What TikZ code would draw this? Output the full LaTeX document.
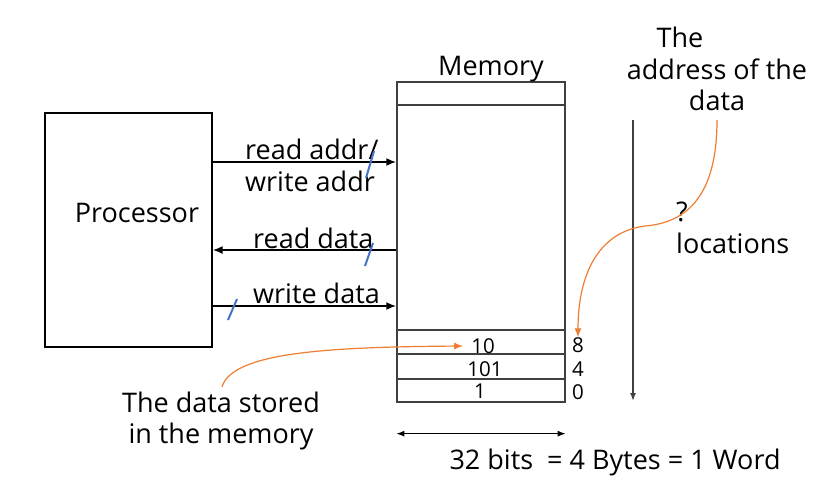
\documentclass[tikz,border=0pt]{standalone}
\usepackage{fontspec}
\setmainfont{Open Sans}
\usetikzlibrary{arrows.meta,calc,positioning}
\definecolor{tickblue}{HTML}{4472C4}
\definecolor{noteorange}{HTML}{ED7D31}
\definecolor{linegray}{HTML}{404040}

\begin{document}
\begin{tikzpicture}[x=1pt, y=-1pt,
  procbox/.style={draw, line width=1.2pt, minimum width=167pt, minimum height=234pt, inner sep=0pt},
  cellbox/.style={draw=linegray, line width=1.3pt, minimum width=168pt, inner sep=0pt},
  txt/.style={font=\fontsize{27}{31.5}\selectfont, inner sep=0pt},
  smalltxt/.style={font=\fontsize{20.5}{22}\selectfont, inner sep=0pt},
  arrow/.style={-{Latex[length=10pt,width=8pt]}, line width=2pt},
  dimarrow/.style={{Latex[length=8pt,width=6pt]}-{Latex[length=8pt,width=6pt]}, line width=1.2pt},
  locarrow/.style={-{Latex[length=8pt,width=6pt]}, line width=1.5pt, draw=linegray},
  notearrow/.style={-{Latex[length=9pt,width=7pt]}, line width=1.2pt, draw=noteorange},
  tick/.style={draw=tickblue, line width=2pt}
]
\useasboundingbox (0,0) rectangle (837,499);

\node[procbox] (proc) at (128.5,230) {};
\node[txt] (proclbl) at (137,213) {Processor};

\node[cellbox, minimum height=23pt] (memtop) at (481,93.5) {};
\node[cellbox, minimum height=225pt] (membody) at (481,217.5) {};
\node[cellbox, minimum height=24pt] (row8) at (481,342) {};
\node[cellbox, minimum height=25pt] (row4) at (481,366.5) {};
\node[cellbox, minimum height=23pt] (row0) at (481,390.5) {};
\node[txt] (memlbl) at (491,69) {Memory};

\node[smalltxt] (val10) at (483,346) {10};
\node[smalltxt] (val101) at (485,369) {101};
\node[smalltxt] (val1) at (480,391) {1};
\node[smalltxt] (adr8) at (578,345) {8};
\node[smalltxt] (adr4) at (578,369) {4};
\node[smalltxt] (adr0) at (578,392) {0};

\node[txt, anchor=west] (lblra) at (245,149) {read addr/};
\node[txt, anchor=west] (lblwa) at (245,181) {write addr};
\node[txt, anchor=west] (lblrd) at (253,238) {read data};
\node[txt, anchor=west] (lblwd) at (253,293) {write data};

\draw[arrow] (proc.east |- 0,162) -- (membody.west |- 0,162);
\draw[arrow] (membody.west |- 0,250) -- (proc.east |- 0,250);
\draw[arrow] (proc.east |- 0,306) -- (membody.west |- 0,306);

\draw[tick] (366,178) -- (374,151);
\draw[tick] (365,266) -- (373,243);
\draw[tick] (228,320) -- (237,299);

\node[txt, align=center] (addrnote) at (717,69) {The\hspace*{74pt}\\address of the\\data};
\node[txt, align=left, anchor=west] (locnote) at (676,228) {?\\locations};
\node[txt, align=center] (datanote) at (221,421) {The data stored\\in the memory};
\node[txt] (wordnote) at (615,462) {32 bits \ = 4 Bytes = 1 Word};

\coordinate (loctop) at (633,120);
\coordinate (locbot) at (633,401);
\draw[locarrow] (loctop) -- (locbot);

\draw[dimarrow] ([yshift=-31pt]row0.south west) -- ([yshift=-31pt]row0.south east);

\draw[notearrow] (717,120) .. controls (717,185) and (695,222) .. (645,226)
  .. controls (598,232) and (578,275) .. (adr8.north);
\draw[notearrow] (222,387) .. controls (232,352) and (330,347) .. ([xshift=-8pt]val10.west);
\end{tikzpicture}
\end{document}
